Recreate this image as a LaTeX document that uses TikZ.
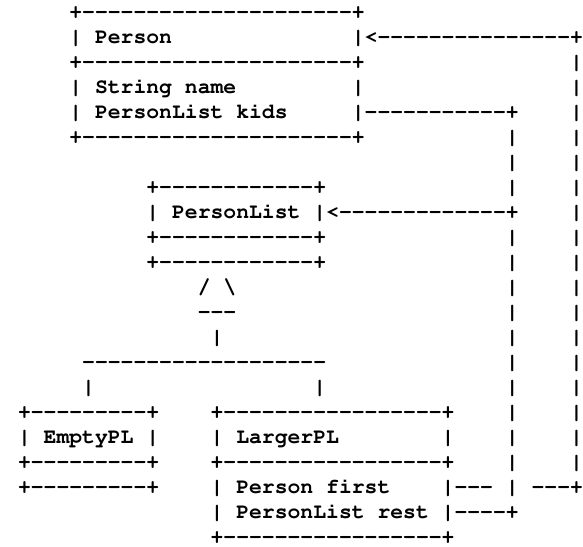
\documentclass[tikz,border=0pt]{standalone}
\usepackage[T1]{fontenc}
\newcommand\Sp[1]{\hspace*{#1\fontcharwd\font`\x}}
\newcommand\D[1]{\foreach\dd in {1,...,#1}{-}}
\newcommand\asciifont{\fontfamily{pcr}\fontseries{b}\fontshape{n}\fontsize{21.4}{25}\selectfont}
\begin{document}
\begin{tikzpicture}[x=1pt,y=1pt,
  rowtxt/.style={anchor=base west, inner sep=0pt, outer sep=0pt, font=\asciifont}]
\fill[white] (0,0) rectangle (583,546);
\useasboundingbox (0,0) rectangle (583,546);
\node[rowtxt] (r1)  at (18,527.5) {\Sp{4}+\D{21}+};
\node[rowtxt] (r2)  at (18,502.5) {\Sp{4}|\Sp{1}Person\Sp{14}|<\D{15}+};
\node[rowtxt] (r3)  at (18,477.5) {\Sp{4}+\D{21}+\Sp{16}|};
\node[rowtxt] (r4)  at (18,452.5) {\Sp{4}|\Sp{1}String\Sp{1}name\Sp{9}|\Sp{16}|};
\node[rowtxt] (r5)  at (18,427.5) {\Sp{4}|\Sp{1}PersonList\Sp{1}kids\Sp{5}|\D{11}+\Sp{4}|};
\node[rowtxt] (r6)  at (18,402.5) {\Sp{4}+\D{21}+\Sp{11}|\Sp{4}|};
\node[rowtxt] (r7)  at (18,377.5) {\Sp{38}|\Sp{4}|};
\node[rowtxt] (r8)  at (18,352.5) {\Sp{10}+\D{12}+\Sp{14}|\Sp{4}|};
\node[rowtxt] (r9)  at (18,327.5) {\Sp{10}|\Sp{1}PersonList\Sp{1}|<\D{13}+\Sp{4}|};
\node[rowtxt] (r10) at (18,302.5) {\Sp{10}+\D{12}+\Sp{14}|\Sp{4}|};
\node[rowtxt] (r11) at (18,277.5) {\Sp{10}+\D{12}+\Sp{14}|\Sp{4}|};
\node[rowtxt] (r12) at (18,252.5) {\Sp{14}/\Sp{1}\textbackslash\Sp{21}|\Sp{4}|};
\node[rowtxt] (r13) at (18,227.5) {\Sp{14}\D{3}\Sp{21}|\Sp{4}|};
\node[rowtxt] (r14) at (18,202.5) {\Sp{15}|\Sp{22}|\Sp{4}|};
\node[rowtxt] (r15) at (18,177.5) {\Sp{5}\D{19}\Sp{14}|\Sp{4}|};
\node[rowtxt] (r16) at (18,152.5) {\Sp{5}|\Sp{17}|\Sp{14}|\Sp{4}|};
\node[rowtxt] (r17) at (18,127.5) {+\D{9}+\Sp{4}+\D{17}+\Sp{4}|\Sp{4}|};
\node[rowtxt] (r18) at (18,102.5) {|\Sp{1}EmptyPL\Sp{1}|\Sp{4}|\Sp{1}LargerPL\Sp{8}|\Sp{4}|\Sp{4}|};
\node[rowtxt] (r19) at (18,77.5)  {+\D{9}+\Sp{4}+\D{17}+\Sp{4}|\Sp{4}|};
\node[rowtxt] (r20) at (18,52.5)  {+\D{9}+\Sp{4}|\Sp{1}Person\Sp{1}first\Sp{4}|\D{3}\Sp{1}|\Sp{1}\D{3}+};
\node[rowtxt] (r21) at (18,27.5)  {\Sp{15}|\Sp{1}PersonList\Sp{1}rest\Sp{1}|\D{4}+};
\node[rowtxt] (r22) at (18,2.5)   {\Sp{15}+\D{17}+};
\end{tikzpicture}
\end{document}
